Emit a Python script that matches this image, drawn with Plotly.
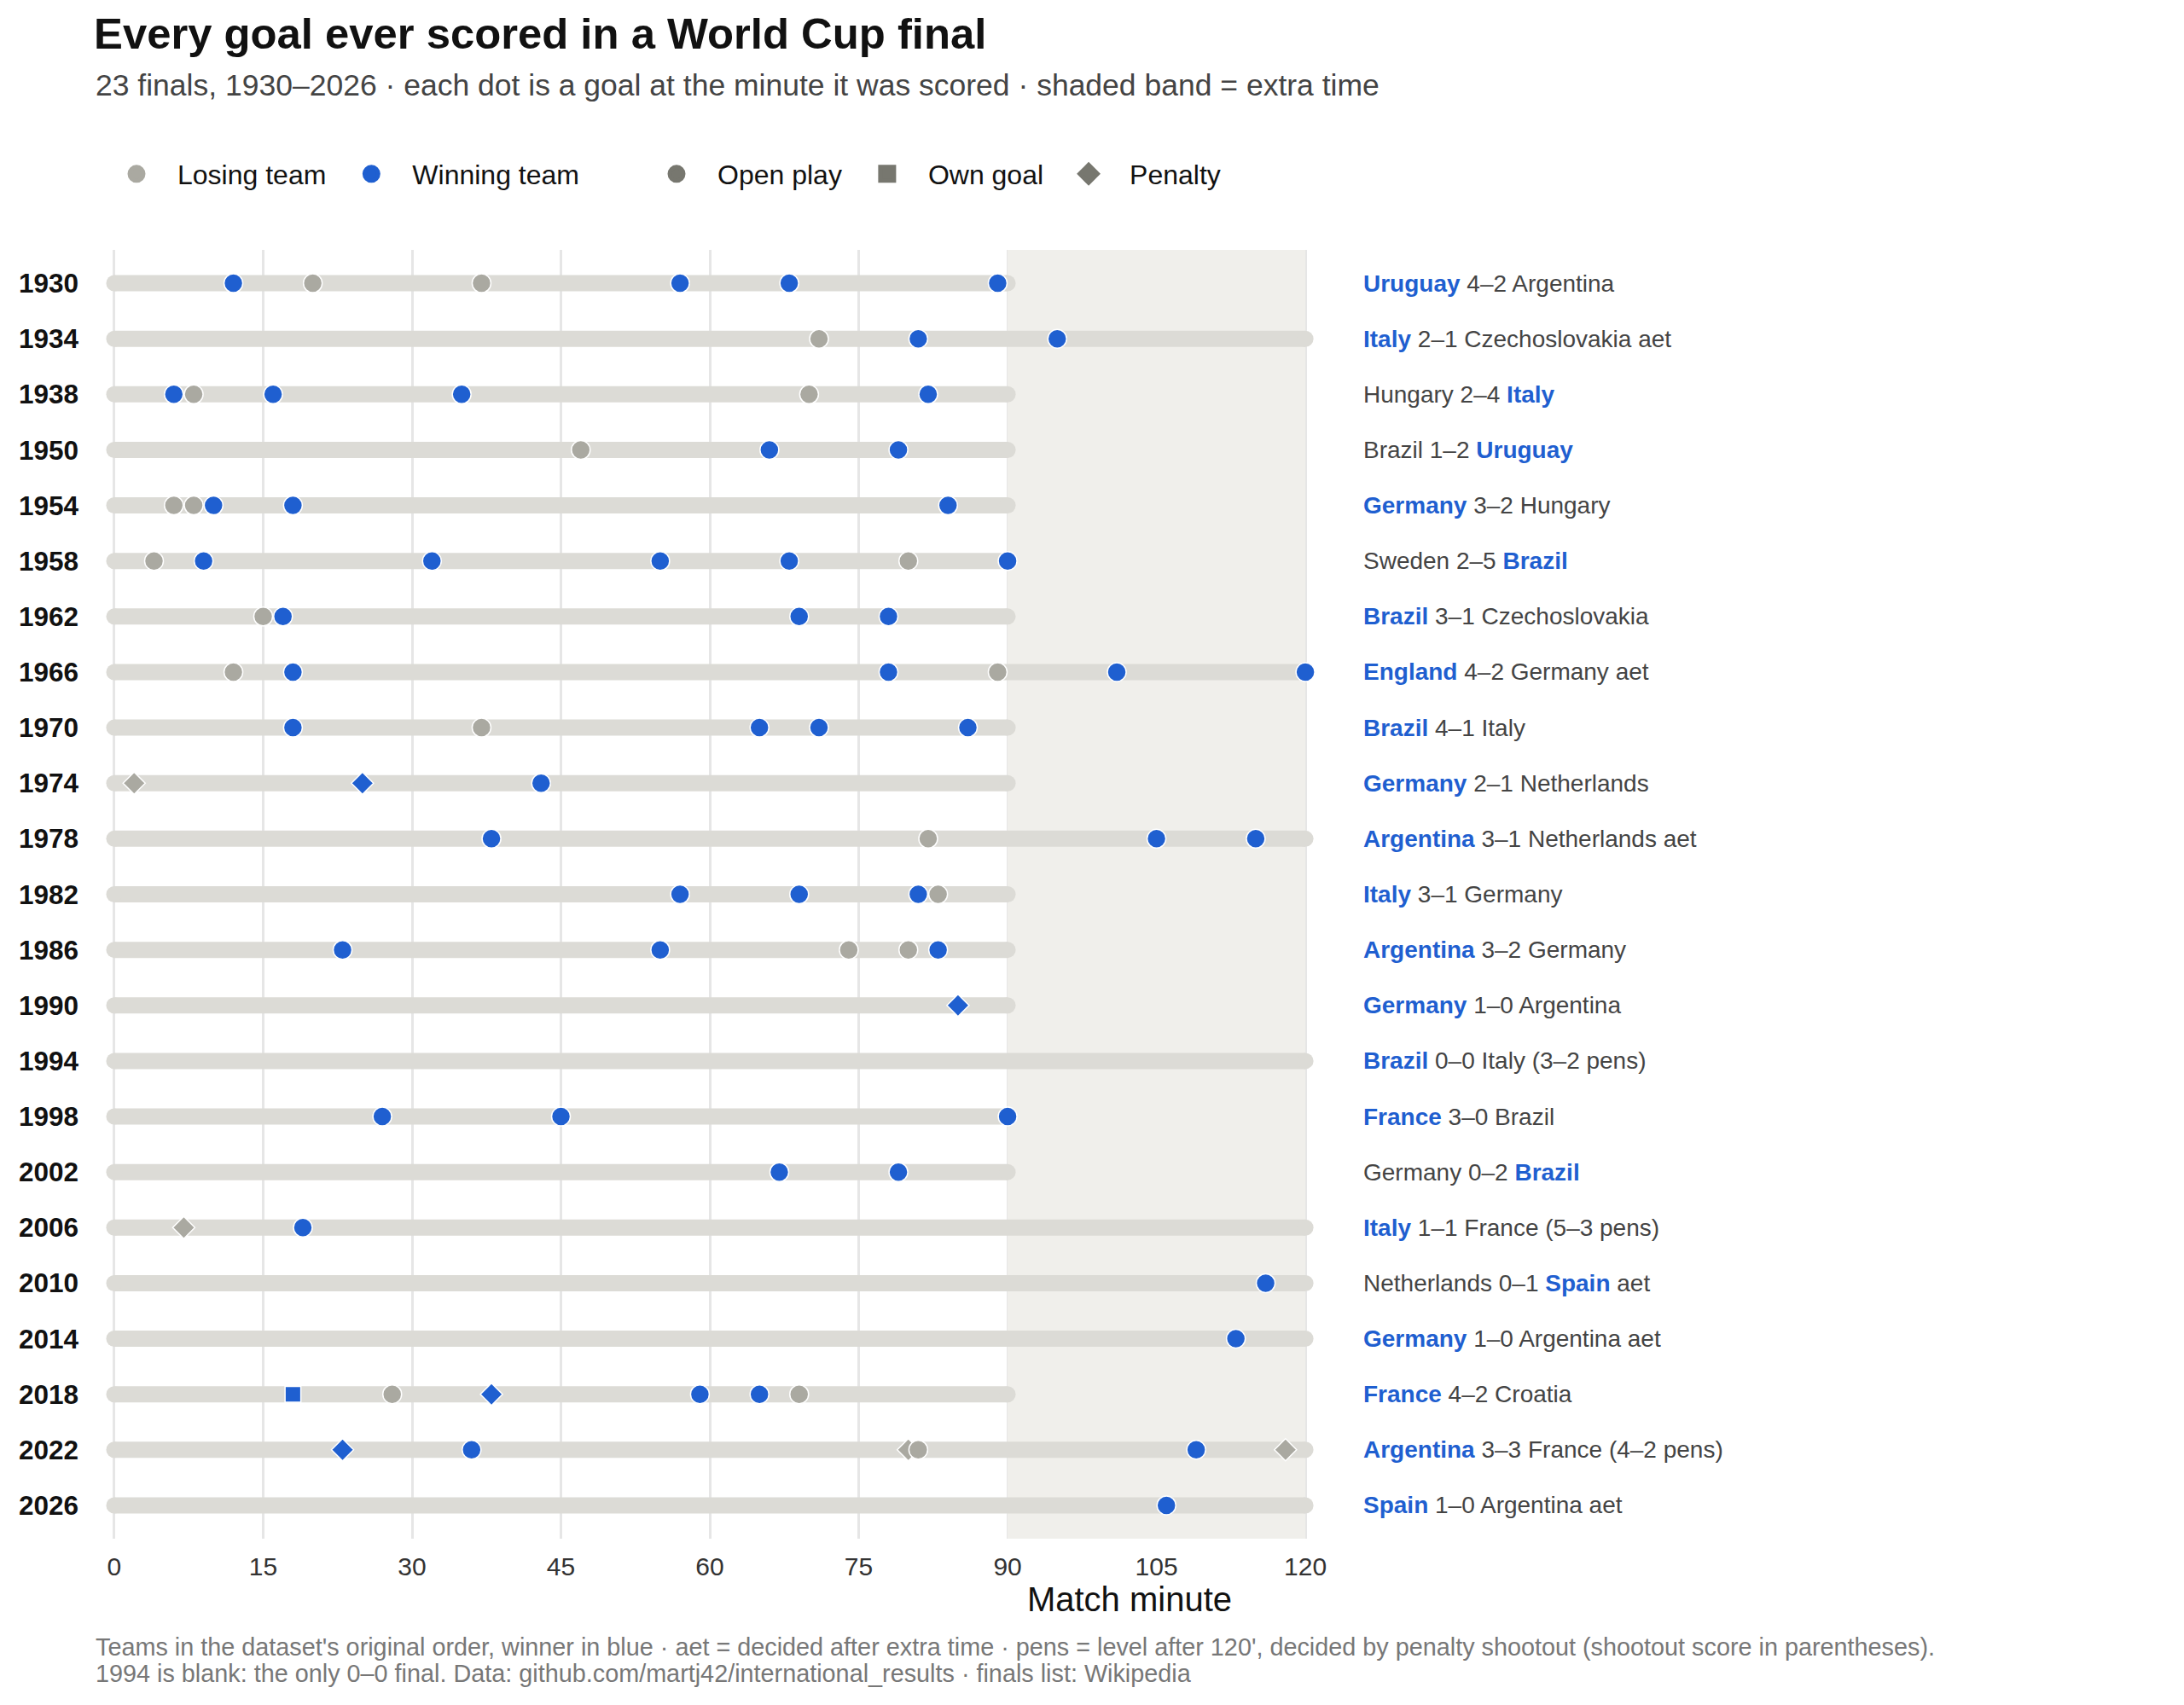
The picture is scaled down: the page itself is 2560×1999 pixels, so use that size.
import plotly.graph_objects as go

# ---------------- data ----------------
YEARS = [1930, 1934, 1938, 1950, 1954, 1958, 1962, 1966, 1970, 1974, 1978, 1982,
         1986, 1990, 1994, 1998, 2002, 2006, 2010, 2014, 2018, 2022, 2026]
TEAM_A = ["Uruguay", "Italy", "Hungary", "Brazil", "Germany", "Sweden", "Brazil",
          "England", "Brazil", "Germany", "Argentina", "Italy", "Argentina", "Germany",
          "Brazil", "France", "Germany", "Italy", "Netherlands", "Germany", "France",
          "Argentina", "Spain"]
TEAM_B = ["Argentina", "Czechoslovakia", "Italy", "Uruguay", "Hungary", "Brazil",
          "Czechoslovakia", "Germany", "Italy", "Netherlands", "Netherlands", "Germany",
          "Germany", "Argentina", "Italy", "Brazil", "Brazil", "France", "Spain",
          "Argentina", "Croatia", "France", "Argentina"]
SCORE_A = [4, 2, 2, 1, 3, 2, 3, 4, 4, 2, 3, 3, 3, 1, 0, 3, 0, 1, 0, 1, 4, 3, 1]
SCORE_B = [2, 1, 4, 2, 2, 5, 1, 2, 1, 1, 1, 1, 2, 0, 0, 0, 2, 1, 1, 0, 2, 3, 0]
WINNER = ["A", "A", "B", "B", "A", "B", "A", "A", "A", "A", "A", "A", "A", "A",
          "A", "A", "B", "A", "B", "A", "A", "A", "A"]
FINISH = ["", "aet", "", "", "", "", "", "aet", "", "", "aet", "", "", "",
          "(3–2 pens)", "", "", "(5–3 pens)", "aet", "aet", "", "(4–2 pens)", "aet"]
MATCH_LENGTH = [90, 120, 90, 90, 90, 90, 90, 120, 90, 90, 120, 90, 90, 90,
                120, 90, 90, 120, 120, 120, 90, 120, 120]

# goals: year, minute, team (W = winning side, L = losing side), kind
GOAL_YEAR = ([1930] * 6 + [1934] * 3 + [1938] * 6 + [1950] * 3 + [1954] * 5 +
             [1958] * 7 + [1962] * 4 + [1966] * 6 + [1970] * 5 + [1974] * 3 +
             [1978] * 4 + [1982] * 4 + [1986] * 5 + [1990] * 1 + [1998] * 3 +
             [2002] * 2 + [2006] * 2 + [2010] * 1 + [2014] * 1 + [2018] * 6 +
             [2022] * 6 + [2026] * 1)
GOAL_MINUTE = [12, 20, 37, 57, 68, 89,
               71, 81, 95,
               6, 8, 16, 35, 70, 82,
               47, 66, 79,
               6, 8, 10, 18, 84,
               4, 9, 32, 55, 68, 80, 90,
               15, 17, 69, 78,
               12, 18, 78, 89, 101, 120,
               18, 37, 65, 71, 86,
               2, 25, 43,
               38, 82, 105, 115,
               57, 69, 81, 83,
               23, 55, 74, 80, 83,
               85,
               27, 45, 90,
               67, 79,
               7, 19,
               116,
               113,
               18, 28, 38, 59, 65, 69,
               23, 36, 80, 81, 109, 118,
               106]
GOAL_TEAM = ["W", "L", "L", "W", "W", "W",
             "L", "W", "W",
             "W", "L", "W", "W", "L", "W",
             "L", "W", "W",
             "L", "L", "W", "W", "W",
             "L", "W", "W", "W", "W", "L", "W",
             "L", "W", "W", "W",
             "L", "W", "W", "L", "W", "W",
             "W", "L", "W", "W", "W",
             "L", "W", "W",
             "W", "L", "W", "W",
             "W", "W", "W", "L",
             "W", "W", "L", "L", "W",
             "W",
             "W", "W", "W",
             "W", "W",
             "L", "W",
             "W",
             "W",
             "W", "L", "W", "W", "W", "L",
             "W", "W", "L", "L", "W", "L",
             "W"]
GOAL_KIND = ["open"] * 45 + ["pen", "pen", "open"] + ["open"] * 13 + ["pen"] + \
            ["open"] * 5 + ["pen", "open"] + ["open"] * 2 + \
            ["og", "open", "pen", "open", "open", "open"] + \
            ["pen", "open", "pen", "open", "open", "pen"] + ["open"]

REGULATION, FULL_TIME = 90, 120
X_TICKS = [0, 15, 30, 45, 60, 75, 90, 105, 120]

# ---------------- styling ----------------
FONT = "Liberation Sans, Arial, Helvetica, sans-serif"
BLUE = "#1f5fd0"
GREY = "#aaa9a1"
DARK = "#77776f"
BAR = "#dcdbd6"
BAND = "#f0efeb"
TEXT = "#444444"

TEAM_COLOR = {"W": BLUE, "L": GREY}
KIND_SYMBOL = {"open": "circle", "og": "square", "pen": "diamond"}
KIND_SIZE = {"open": 22, "og": 18.5, "pen": 20}

row = {yr: i for i, yr in enumerate(YEARS)}
Y_RANGE = [len(YEARS) - 1 + 0.6, -0.6]

fig = go.Figure()

# extra-time band (drawn as a trace so it sits above the gridlines)
fig.add_trace(go.Scatter(
    x=[REGULATION, FULL_TIME, FULL_TIME, REGULATION, REGULATION],
    y=[Y_RANGE[1], Y_RANGE[1], Y_RANGE[0], Y_RANGE[0], Y_RANGE[1]],
    mode="lines", fill="toself", fillcolor=BAND, line=dict(width=0, color=BAND),
    showlegend=False, hoverinfo="skip"))

# timeline bars (with rounded end caps)
bx, by = [], []
for yr, ln in zip(YEARS, MATCH_LENGTH):
    bx += [0, ln, None]
    by += [row[yr], row[yr], None]
fig.add_trace(go.Scatter(
    x=bx, y=by, mode="lines+markers",
    line=dict(color=BAR, width=19),
    marker=dict(color=BAR, size=19, opacity=1, line=dict(width=0)),
    showlegend=False, hoverinfo="skip", connectgaps=False))

# goals
fig.add_trace(go.Scatter(
    x=GOAL_MINUTE, y=[row[y] for y in GOAL_YEAR], mode="markers",
    marker=dict(
        color=[TEAM_COLOR[t] for t in GOAL_TEAM],
        symbol=[KIND_SYMBOL[k] for k in GOAL_KIND],
        size=[KIND_SIZE[k] for k in GOAL_KIND],
        opacity=1,
        line=dict(color="white", width=1.5)),
    showlegend=False, hoverinfo="skip"))

# legend entries
for name, col, sym, lg in [("Losing team", GREY, "circle", "legend"),
                           ("Winning team", BLUE, "circle", "legend"),
                           ("Open play", DARK, "circle", "legend2"),
                           ("Own goal", DARK, "square", "legend2"),
                           ("Penalty", DARK, "diamond", "legend2")]:
    fig.add_trace(go.Scatter(
        x=[None], y=[None], mode="markers", name=name, legend=lg,
        marker=dict(color=col, symbol=sym, size=16, opacity=1,
                    line=dict(color=col, width=5))))

# right-hand labels
annotations = []
for i, yr in enumerate(YEARS):
    a = TEAM_A[i]
    b = TEAM_B[i]
    if WINNER[i] == "A":
        a = f"<b><span style='color:{BLUE}'>{a}</span></b>"
    else:
        b = f"<b><span style='color:{BLUE}'>{b}</span></b>"
    txt = f"{a} {SCORE_A[i]}–{SCORE_B[i]} {b}"
    if FINISH[i]:
        txt += " " + FINISH[i]
    annotations.append(dict(
        x=125.7, y=row[yr], xref="x", yref="y", text=txt, showarrow=False,
        xanchor="left", yanchor="middle", font=dict(size=28, color=TEXT, family=FONT)))

W, H = 2560, 1999
ML, MR, MT, MB = 115, 27, 293, 195
PH = H - MT - MB


def py(pix):
    return (H - MB - pix) / PH


def px(pix):
    return (pix - ML) / (W - ML - MR)


annotations += [
    dict(x=px(110), y=py(100), xref="paper", yref="paper", xanchor="left", yanchor="middle",
         text="23 finals, 1930–2026 · each dot is a goal at the minute it was scored · shaded band = extra time",
         showarrow=False, font=dict(size=35.5, color=TEXT, family=FONT)),
    dict(x=px(110), y=py(1931), xref="paper", yref="paper", xanchor="left", yanchor="middle",
         text="Teams in the dataset's original order, winner in blue · aet = decided after extra time · "
              "pens = level after 120', decided by penalty shootout (shootout score in parentheses).",
         showarrow=False, font=dict(size=28.8, color="#777777", family=FONT)),
    dict(x=px(110), y=py(1962), xref="paper", yref="paper", xanchor="left", yanchor="middle",
         text="1994 is blank: the only 0–0 final. Data: github.com/martj42/international_results · finals list: Wikipedia",
         showarrow=False, font=dict(size=28.8, color="#777777", family=FONT)),
]

fig.update_layout(
    width=W, height=H,
    margin=dict(l=ML, r=MR, t=MT, b=MB),
    paper_bgcolor="white", plot_bgcolor="white",
    font=dict(family=FONT, color="#222"),
    title=dict(text="<b>Every goal ever scored in a World Cup final</b>",
               x=110 / W, xanchor="left", xref="container",
               y=1 - 39 / H, yanchor="middle", yref="container",
               font=dict(size=50.8, color="#111", family=FONT)),
    hovermode=False,
    annotations=annotations,
    legend=dict(orientation="h", xref="container", yref="container",
                x=112 / W, xanchor="left", y=1 - 204 / H, yanchor="middle",
                itemwidth=86, font=dict(size=32, color="#111", family=FONT),
                bgcolor="rgba(0,0,0,0)"),
    legend2=dict(orientation="h", xref="container", yref="container",
                 x=745 / W, xanchor="left", y=1 - 204 / H, yanchor="middle",
                 itemwidth=86, font=dict(size=32, color="#111", family=FONT),
                 bgcolor="rgba(0,0,0,0)"),
    xaxis=dict(range=[-1.63, 206.2], tickvals=X_TICKS,
               showgrid=True, gridcolor="#e6e6e6", gridwidth=2.5, zeroline=False,
               showline=False, ticks="", ticklabelstandoff=12,
               tickfont=dict(size=30, color="#333", family=FONT),
               title=dict(text="Match minute", standoff=7,
                          font=dict(size=40, color="#111", family=FONT))),
    yaxis=dict(range=Y_RANGE, tickvals=list(range(len(YEARS))),
               ticktext=[str(y) for y in YEARS],
               showgrid=False, zeroline=False, showline=False,
               ticks="", ticklabelstandoff=22,
               tickfont=dict(size=31.5, color="#111", family=FONT, weight="bold")),
)

fig.write_html("out.html")
